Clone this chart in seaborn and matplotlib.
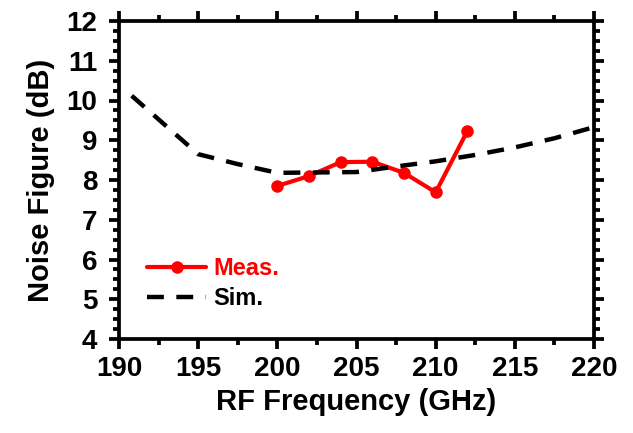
import matplotlib
matplotlib.use("Agg")
import matplotlib.pyplot as plt
import pandas as pd
import seaborn as sns
from matplotlib.ticker import MultipleLocator

# Measured noise figure
meas_freq = [200, 202, 204, 206, 208, 210, 212]
meas_nf = [7.85, 8.10, 8.45, 8.46, 8.18, 7.69, 9.23]

# Simulated noise figure
sim_freq = [190.8, 195, 197.5, 200, 202.5, 205, 207.5, 210, 212.5, 215, 217.5, 220]
sim_nf = [10.12, 8.65, 8.40, 8.18, 8.19, 8.20, 8.34, 8.47, 8.63, 8.82, 9.05, 9.33]

df_meas = pd.DataFrame({'freq': meas_freq, 'nf': meas_nf})
df_sim = pd.DataFrame({'freq': sim_freq, 'nf': sim_nf})

sns.set_style("ticks")
plt.rcParams['font.family'] = ['Liberation Sans', 'DejaVu Sans']
plt.rcParams['font.weight'] = 'bold'
for key in ['text.color', 'axes.labelcolor', 'xtick.color', 'ytick.color', 'axes.edgecolor']:
    plt.rcParams[key] = 'black'

fig, ax = plt.subplots(figsize=(6.33, 4.33), dpi=100)
fig.subplots_adjust(left=119/633, right=594/633, top=1-21/433, bottom=1-339/433)

sns.lineplot(data=df_meas, x='freq', y='nf', ax=ax, color='#ff0000', linewidth=3,
             marker='o', markersize=9, markeredgewidth=0, label='Meas.')
sns.lineplot(data=df_sim, x='freq', y='nf', ax=ax, color='black', linewidth=3.2,
             label='Sim.')
ax.lines[1].set_dashes([3.8, 2.8])

ax.set_xlim(190, 220)
ax.set_ylim(4, 12)
ax.xaxis.set_major_locator(MultipleLocator(5))
ax.xaxis.set_minor_locator(MultipleLocator(2.5))
ax.yaxis.set_major_locator(MultipleLocator(1))
ax.yaxis.set_minor_locator(MultipleLocator(0.25))

for side in ['left', 'right', 'top', 'bottom']:
    ax.spines[side].set_visible(True)
    ax.spines[side].set_linewidth(2.7)
    ax.spines[side].set_color('black')
ax.tick_params(which='both', direction='out', top=True, right=True,
               labeltop=False, labelright=False, width=2.7, color='black')
ax.tick_params(axis='x', which='major', length=7.5, labelsize=20, pad=5)
ax.tick_params(axis='y', which='major', length=7.5, labelsize=20, pad=8)
ax.tick_params(which='minor', length=4)

ax.set_xlabel("RF Frequency (GHz)", fontsize=21, fontweight='bold', labelpad=4)
ax.set_ylabel("Noise Figure (dB)", fontsize=21, fontweight='bold', labelpad=8)

leg = ax.legend(loc='lower left', bbox_to_anchor=(0.04, 0.06), frameon=False,
                handlelength=2.5, handletextpad=0.3,
                labelspacing=0.3, borderaxespad=0, labelcolor='linecolor',
                prop={'weight': 'bold', 'size': 17})

fig.savefig('out.png', dpi=100)
